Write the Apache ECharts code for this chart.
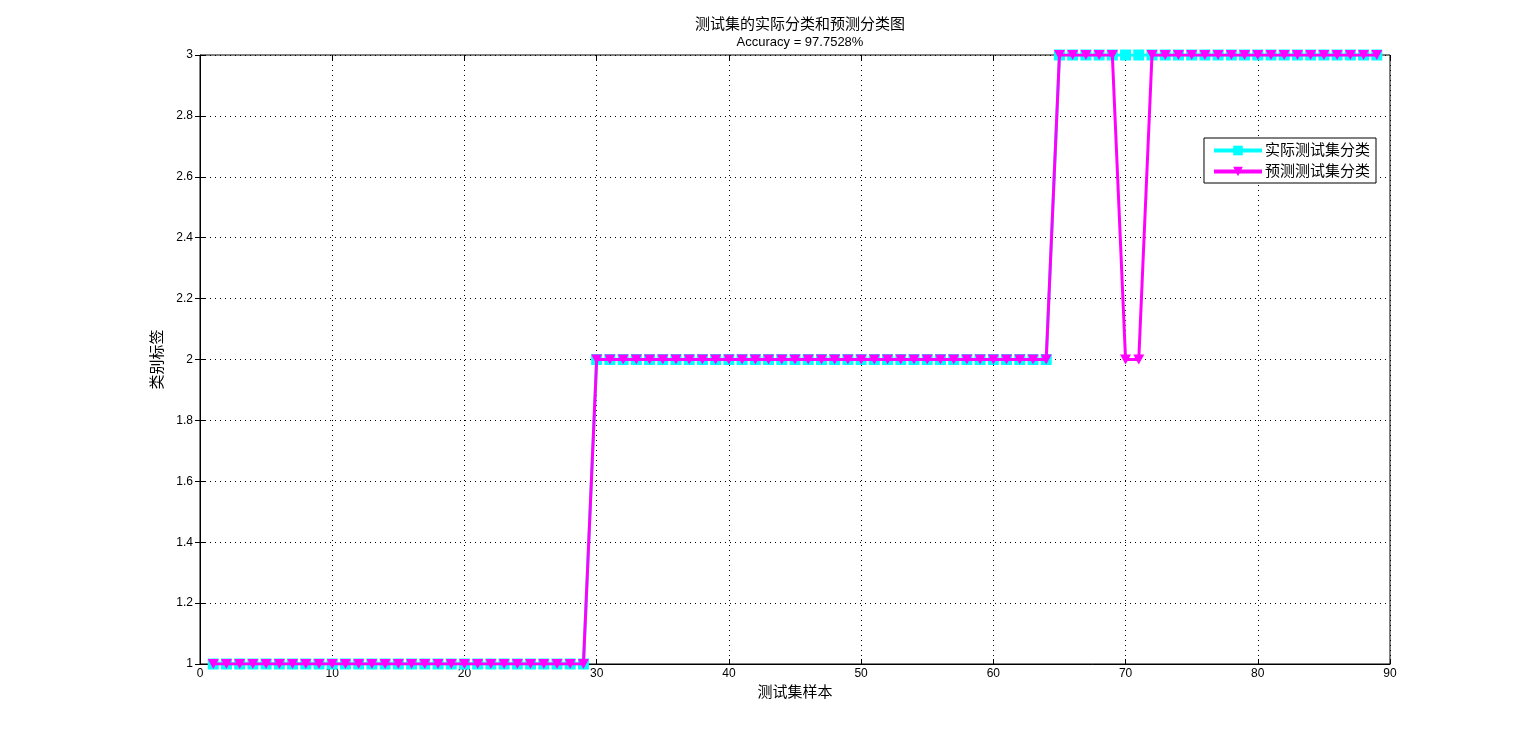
<!DOCTYPE html>
<html>
<head>
<meta charset="utf-8">
<script src="https://cdn.jsdelivr.net/npm/echarts@6/dist/echarts.min.js"></script>
<style>
  html, body { margin: 0; padding: 0; background: #fff; }
  #chart { width: 1537px; height: 746px; }
</style>
</head>
<body>
<div id="chart"></div>
<script>
// 实际类别：1~29 为 1，30~64 为 2，65~89 为 3
const actualLabels = [
  1,1,1,1,1,1,1,1,1,1, 1,1,1,1,1,1,1,1,1,1, 1,1,1,1,1,1,1,1,1,
  2,2,2,2,2,2,2,2,2,2, 2,2,2,2,2,2,2,2,2,2, 2,2,2,2,2,2,2,2,2,2, 2,2,2,2,2,
  3,3,3,3,3,3,3,3,3,3, 3,3,3,3,3,3,3,3,3,3, 3,3,3,3,3
];
// 预测类别：第 70、71 个样本被误分为 2
const predictLabels = [
  1,1,1,1,1,1,1,1,1,1, 1,1,1,1,1,1,1,1,1,1, 1,1,1,1,1,1,1,1,1,
  2,2,2,2,2,2,2,2,2,2, 2,2,2,2,2,2,2,2,2,2, 2,2,2,2,2,2,2,2,2,2, 2,2,2,2,2,
  3,3,3,3,3,2,2,3,3,3, 3,3,3,3,3,3,3,3,3,3, 3,3,3,3,3
];
const sampleIdx = actualLabels.map((v, i) => i + 1);

const fontFam = "Arial, 'Liberation Sans', 'Noto Sans CJK SC', sans-serif";
const chart = echarts.init(document.getElementById("chart"));

const hiddenAxis = {
  show: true,
  axisLine: { show: false },
  axisLabel: { show: false },
  splitLine: { show: false },
  axisTick: { show: true, inside: true, length: 5, lineStyle: { color: "#000" } }
};

const option = {
  animation: false,
  backgroundColor: "#fff",
  title: {
    text: "测试集的实际分类和预测分类图",
    subtext: "Accuracy = 97.7528%",
    left: 795,
    textAlign: "center",
    top: 11,
    itemGap: 2,
    textStyle: { fontSize: 15, fontWeight: "normal", color: "#000", fontFamily: fontFam, lineHeight: 17 },
    subtextStyle: { fontSize: 13, color: "#000", fontFamily: fontFam, lineHeight: 15 }
  },
  legend: {
    orient: "vertical",
    right: 161,
    top: 138,
    itemWidth: 48,
    itemHeight: 12,
    itemGap: 6,
    padding: [5, 6, 4, 8],
    backgroundColor: "#fff",
    borderColor: "#000",
    borderWidth: 1,
    lineStyle: { width: 4 },
    textStyle: { fontSize: 15, color: "#000", fontFamily: fontFam, padding: [0, 0, 0, -2] },
    data: ["实际测试集分类", "预测测试集分类"]
  },
  grid: {
    left: 200, right: 147, top: 55, bottom: 82,
    show: true, borderColor: "#000", borderWidth: 1,
    backgroundColor: "#fff"
  },
  xAxis: [
    {
      type: "value", min: 0, max: 90, interval: 10,
      name: "测试集样本", nameLocation: "middle", nameGap: 21,
      nameTextStyle: { fontSize: 15, color: "#000", fontFamily: fontFam },
      axisLine: { show: true, onZero: false, lineStyle: { color: "#000" } },
      axisTick: { inside: true, length: 5, lineStyle: { color: "#000" } },
      axisLabel: { fontSize: 12, color: "#000", margin: 4, fontFamily: fontFam },
      splitLine: { show: true, lineStyle: { color: "#000", type: [1, 4], width: 1 } }
    },
    Object.assign({ type: "value", min: 0, max: 90, interval: 10, position: "top" }, hiddenAxis)
  ],
  yAxis: [
    {
      type: "value", min: 1, max: 3, interval: 0.2,
      name: "类别标签", nameLocation: "middle", nameGap: 23, nameRotate: 90,
      nameTextStyle: { fontSize: 15, color: "#000", fontFamily: fontFam },
      axisLine: { show: true, lineStyle: { color: "#000" } },
      axisTick: { inside: true, length: 5, lineStyle: { color: "#000" } },
      axisLabel: {
        fontSize: 12, color: "#000", margin: 7, fontFamily: fontFam,
        formatter: v => String(+v.toFixed(1))
      },
      splitLine: { show: true, lineStyle: { color: "#000", type: [1, 4], width: 1 } }
    },
    Object.assign({ type: "value", min: 1, max: 3, interval: 0.2, position: "right" }, hiddenAxis)
  ],
  series: [
    {
      name: "实际测试集分类",
      type: "line",
      data: sampleIdx.map((x, i) => [x, actualLabels[i]]),
      symbol: "rect",
      symbolSize: 11,
      showAllSymbol: true,
      itemStyle: { color: "#00ffff" },
      lineStyle: { color: "#00ffff", width: 3 },
      z: 2
    },
    {
      name: "预测测试集分类",
      type: "line",
      data: sampleIdx.map((x, i) => [x, predictLabels[i]]),
      symbol: "path://M0,0 L10,0 L5,9 Z",
      symbolSize: [11, 10],
      showAllSymbol: true,
      itemStyle: { color: "#ff00ff" },
      lineStyle: { color: "#ff00ff", width: 3 },
      z: 3
    }
  ]
};
chart.setOption(option);
</script>
</body>
</html>
